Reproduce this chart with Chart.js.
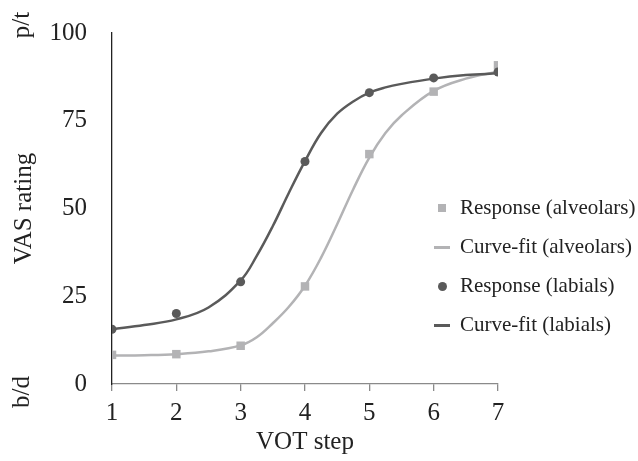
<!DOCTYPE html>
<html>
<head>
<meta charset="utf-8">
<script src="https://cdn.jsdelivr.net/npm/chart.js@4.4.1/dist/chart.umd.min.js"></script>
<style>
  html, body { margin: 0; padding: 0; background: #fff; overflow: hidden; }
  #wrap { position: relative; width: 638px; height: 461px; }
  #legend { position: absolute; left: 0; top: 0; width: 638px; height: 461px; pointer-events: none;
            font-family: 'Liberation Serif', 'Times New Roman', serif; font-size: 21px; color: #222; }
  .item { position: absolute; left: 430px; height: 24px; line-height: 24px; white-space: nowrap; }
  .item .mk { position: absolute; left: 0; top: 0; width: 24px; height: 24px; }
  .item .tx { position: absolute; left: 30px; top: -1px; }
</style>
</head>
<body>
<div id="wrap">
  <canvas id="c" width="638" height="461"></canvas>
  <div id="legend"></div>
</div>
<script>
// VOT continuum data
const steps = [1, 2, 3, 4, 5, 6, 7];
const alveolarResponse = [8.3, 8.5, 10.9, 27.8, 65.5, 83.3, 90.8];
const labialResponse = [15.6, 20.1, 29.1, 63.4, 83.0, 87.2, 88.9];

// fitted curves, sampled from the plotted lines
const fitSteps = [1, 1.5, 2, 2.5, 3, 3.25, 3.5, 3.75, 4, 4.25, 4.5, 4.75, 5, 5.25, 5.5, 6, 6.5, 7];
const alveolarFit = [8.1, 8.2, 8.5, 9.3, 11.0, 13.3, 17.3, 22.0, 28.0, 36.0, 45.5, 55.5, 64.5, 71.5, 76.5, 83.5, 87.0, 89.0];
const labialFit = [15.6, 16.8, 18.4, 21.8, 29.5, 36.5, 45.0, 54.5, 63.5, 71.5, 77.0, 80.5, 83.0, 84.5, 85.5, 87.0, 88.0, 88.5];

const xTicks = [1, 2, 3, 4, 5, 6, 7];
const yTicks = [0, 25, 50, 75, 100];
const seriesLabels = ['Response (alveolars)', 'Curve-fit (alveolars)', 'Response (labials)', 'Curve-fit (labials)'];

const LIGHT = '#b3b3b5';
const DARK = '#5a5a5a';
const FONT = "'Liberation Serif', 'Times New Roman', serif";

const pts = (xs, ys) => xs.map((x, i) => ({ x, y: ys[i] }));

// rotated labels on the left: "p/t", "VAS rating", "b/d"
const sideLabels = {
  id: 'sideLabels',
  afterDraw(chart) {
    const { ctx } = chart;
    const y = chart.scales.y;
    const put = (text, cx, cy) => {
      ctx.save();
      ctx.translate(cx, cy);
      ctx.rotate(-Math.PI / 2);
      ctx.textAlign = 'center';
      ctx.textBaseline = 'middle';
      ctx.fillText(text, 0, 0);
      ctx.restore();
    };
    ctx.save();
    ctx.fillStyle = '#222';
    ctx.font = `25px ${FONT}`;
    put('p/t', 22, y.getPixelForValue(100) - 8);
    put('b/d', 22, y.getPixelForValue(0) + 8);
    put('VAS rating', 24, (y.top + y.bottom) / 2);
    ctx.restore();
  },
};

const chart = new Chart(document.getElementById('c'), {
  type: 'scatter',
  data: {
    datasets: [
      {
        label: seriesLabels[0],
        data: pts(steps, alveolarResponse),
        showLine: false,
        pointStyle: 'rect',
        pointRadius: 6,
        backgroundColor: LIGHT,
        borderWidth: 0,
        order: 2,
      },
      {
        label: seriesLabels[1],
        data: pts(fitSteps, alveolarFit),
        showLine: true,
        pointRadius: 0,
        borderColor: LIGHT,
        borderWidth: 2.5,
        tension: 0.4,
        order: 4,
      },
      {
        label: seriesLabels[2],
        data: pts(steps, labialResponse),
        showLine: false,
        pointStyle: 'circle',
        pointRadius: 4.5,
        backgroundColor: DARK,
        borderWidth: 0,
        order: 1,
      },
      {
        label: seriesLabels[3],
        data: pts(fitSteps, labialFit),
        showLine: true,
        pointRadius: 0,
        borderColor: DARK,
        borderWidth: 2.5,
        tension: 0.4,
        order: 3,
      },
    ],
  },
  options: {
    responsive: false,
    animation: false,
    devicePixelRatio: 1,
    layout: { padding: { top: 33, right: 140, bottom: 0, left: 0 } },
    plugins: {
      legend: { display: false },
      tooltip: { enabled: false },
    },
    scales: {
      x: {
        type: 'linear',
        min: 1,
        max: 7,
        afterBuildTicks: s => { s.ticks = xTicks.map(v => ({ value: v })); },
        afterFit: s => { s.height = 77; s.paddingLeft = 0; s.paddingRight = 0; },
        grid: { drawOnChartArea: false, drawTicks: true, tickLength: 7, color: '#8a8a8a', lineWidth: 1.3 },
        border: { color: '#8a8a8a', width: 1.3 },
        ticks: { color: '#222', font: { family: FONT, size: 25 }, padding: 7, maxRotation: 0 },
        title: {
          display: true,
          text: 'VOT step',
          color: '#222',
          font: { family: FONT, size: 25 },
          padding: { top: 0, bottom: 4 },
        },
      },
      y: {
        min: 0,
        max: 100,
        afterBuildTicks: s => { s.ticks = yTicks.map(v => ({ value: v })); },
        afterFit: s => { s.width = 112; s.paddingTop = 0; s.paddingBottom = 0; },
        grid: { drawOnChartArea: false, drawTicks: false },
        border: { color: '#222', width: 1.3 },
        ticks: { color: '#222', font: { family: FONT, size: 25 }, padding: 25 },
      },
    },
  },
  plugins: [sideLabels],
});

// legend built as html so it can sit beside the plot like the original
const legendRows = [208, 247, 286, 325];
const legend = document.getElementById('legend');
chart.data.datasets.forEach((ds, i) => {
  const item = document.createElement('div');
  item.className = 'item';
  item.style.top = (legendRows[i] - 12) + 'px';
  const mk = document.createElement('div');
  mk.className = 'mk';
  const color = ds.backgroundColor || ds.borderColor;
  if (ds.showLine) {
    mk.innerHTML = `<div style="position:absolute;left:4px;top:11px;width:16px;height:2.5px;background:${ds.borderColor}"></div>`;
  } else if (ds.pointStyle === 'rect') {
    mk.innerHTML = `<div style="position:absolute;left:8px;top:8px;width:8px;height:8px;background:${color}"></div>`;
  } else {
    mk.innerHTML = `<div style="position:absolute;left:8px;top:8px;width:9px;height:9px;border-radius:50%;background:${color}"></div>`;
  }
  const tx = document.createElement('span');
  tx.className = 'tx';
  tx.textContent = ds.label;
  item.appendChild(mk);
  item.appendChild(tx);
  legend.appendChild(item);
});
</script>
</body>
</html>
